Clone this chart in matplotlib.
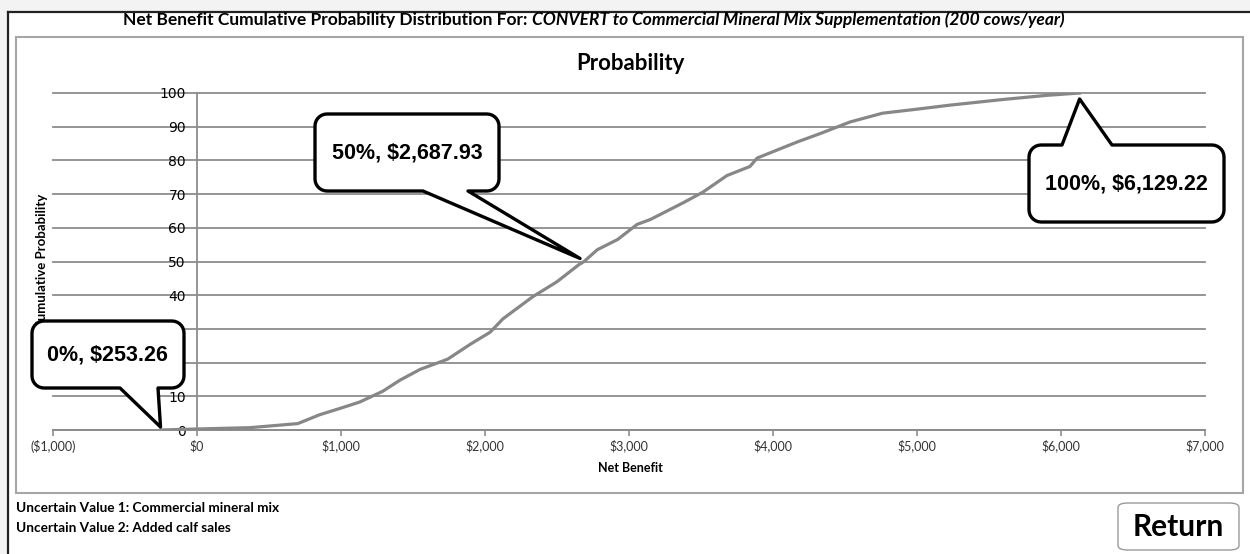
import numpy as np
import matplotlib
matplotlib.use('Agg')
import matplotlib.pyplot as plt
from matplotlib.patches import Polygon, Rectangle, FancyBboxPatch

# cumulative distribution
net_benefit = [-253.26, 0, 370, 700, 850, 1000, 1130, 1290, 1410, 1550, 1740, 1900,
               2035, 2125, 2330, 2500, 2650, 2687.93, 2780, 2920, 3056, 3150, 3375,
               3514, 3680, 3840, 3890, 4170, 4330, 4535, 4760, 5000, 5230, 5580,
               5900, 6129.22]
cum_prob = [0, 0.3, 0.7, 1.9, 4.5, 6.5, 8.3, 11.5, 14.8, 18, 21, 25.5,
            29, 33, 39.5, 44, 49, 50, 53.5, 56.5, 61, 62.5, 67.4,
            70.6, 75.5, 78.2, 80.7, 85.5, 88, 91.4, 94, 95.2, 96.4, 98,
            99.3, 100]

x_ticks = [-1000, 0, 1000, 2000, 3000, 4000, 5000, 6000, 7000]
x_tick_labels = ['($1,000)', '$0', '$1,000', '$2,000', '$3,000', '$4,000',
                 '$5,000', '$6,000', '$7,000']
y_ticks = [0, 10, 20, 30, 40, 50, 60, 70, 80, 90, 100]

# callouts: label, data point
callout_labels = ['0%, $253.26', '50%, $2,687.93', '100%, $6,129.22']
callout_points = [(-253.26, 0), (2687.93, 50), (6129.22, 100)]

W, H = 1250, 554
calibri = ['Lato', 'DejaVu Sans']
arial = ['Liberation Sans', 'DejaVu Sans']


def px(x, y):
    # pixel (top-left origin) -> figure fraction
    return (x / W, 1 - y / H)


fig = plt.figure(figsize=(W / 100, H / 100), dpi=100)
fig.patch.set_facecolor('#f3f3f3')

# window and chart frame
fig.patches.append(Rectangle(px(8, 554), (W - 8) / W, (554 - 12) / H, transform=fig.transFigure,
                             facecolor='white', edgecolor='none', zorder=0))
fig.add_artist(plt.Line2D([8 / W, 1], [1 - 12 / H] * 2, color='#222222', lw=1.6, zorder=0.5))
fig.add_artist(plt.Line2D([8 / W] * 2, [0, 1 - 12 / H], color='#222222', lw=1.6, zorder=0.5))
fig.patches.append(Rectangle(px(16, 493), (1243 - 16) / W, (493 - 37) / H, transform=fig.transFigure,
                             facecolor='white', edgecolor='#a6a6a6', lw=1.5, zorder=0.6))

ax = fig.add_axes([53 / W, 1 - 430 / H, (1205 - 53) / W, (430 - 93) / H])
ax.set_zorder(1)
ax.patch.set_alpha(0)
ax.plot(net_benefit, cum_prob, color='#878787', lw=2.3, solid_joinstyle='round', zorder=3)
ax.set_xlim(-1000, 7000)
ax.set_ylim(0, 100)
ax.set_xticks(x_ticks)
ax.set_xticklabels(x_tick_labels, fontfamily=calibri, fontsize=9, color='#333333')
ax.set_yticks(y_ticks)
ax.set_yticklabels([str(v) for v in y_ticks], fontfamily=calibri, fontsize=9, color='#333333')
ax.yaxis.grid(True, color='#8c8c8c', lw=1.3, clip_on=False)
ax.set_axisbelow(True)
for s in ['top', 'right']:
    ax.spines[s].set_visible(False)
ax.spines['left'].set_position(('data', 0))
ax.spines['left'].set_color('#8c8c8c')
ax.spines['left'].set_linewidth(1.3)
ax.spines['bottom'].set_color('#8c8c8c')
ax.spines['bottom'].set_linewidth(1.3)
ax.tick_params(axis='x', direction='out', length=4, width=1.2, color='#8c8c8c', pad=3)
ax.tick_params(axis='y', length=0, pad=8)

# titles
t1 = fig.text(*px(594, 20), 'Net Benefit Cumulative Probability Distribution For: ',
              ha='left', va='center', fontfamily=calibri, fontweight='bold', fontsize=12.5, zorder=5)
t2 = fig.text(*px(594, 20), 'CONVERT to Commercial Mineral Mix Supplementation (200 cows/year)',
              ha='left', va='center', fontfamily=calibri, fontweight='bold', fontstyle='italic',
              fontsize=12.5, zorder=5)
fig.text(*px(630, 64), 'Probability', ha='center', va='center', fontfamily=calibri,
         fontweight='bold', fontsize=16, zorder=5)
fig.text(*px(630, 468), 'Net Benefit', ha='center', va='center', fontfamily=calibri,
         fontweight='bold', fontsize=9, zorder=5)
# the bubble below hides the start of this label, as in the source
ylab = fig.text(*px(42, 260), 'Cumulative Probability', ha='center', va='center', rotation=90,
                fontfamily=calibri, fontweight='bold', fontsize=9.5, zorder=3)

fig.text(*px(16, 508), 'Uncertain Value 1: Commercial mineral mix', ha='left', va='center',
         fontfamily=calibri, fontweight='bold', fontsize=9.8)
fig.text(*px(16, 528), 'Uncertain Value 2: Added calf sales', ha='left', va='center',
         fontfamily=calibri, fontweight='bold', fontsize=9.8)

# return button
btn = FancyBboxPatch(px(1118, 550), (1239 - 1118) / W, (550 - 503) / H,
                     boxstyle='round,pad=0,rounding_size=0.008', transform=fig.transFigure,
                     facecolor='white', edgecolor='#9a9a9a', lw=1.0, zorder=2)
fig.patches.append(btn)
fig.text(*px(1178, 527), 'Return', ha='center', va='center', fontfamily=calibri,
         fontweight='bold', fontsize=21.5, zorder=5)


def bubble(x0, y0, x1, y1, side, b1, b2, tip, r=12):
    # outline of a rounded box with a pointer, in pixel coords (y down)
    def arc(cx, cy, a0, a1):
        a = np.radians(np.linspace(a0, a1, 8))
        return list(zip(cx + r * np.cos(a), cy + r * np.sin(a)))
    pts = arc(x0 + r, y0 + r, 180, 270)
    if side == 'top':
        pts += [(b1, y0), tip, (b2, y0)]
    pts += arc(x1 - r, y0 + r, 270, 360)
    pts += arc(x1 - r, y1 - r, 0, 90)
    if side == 'bottom':
        pts += [(b2, y1), tip, (b1, y1)]
    pts += arc(x0 + r, y1 - r, 90, 180)
    return [px(x, y) for x, y in pts]


fig.canvas.draw()
renderer = fig.canvas.get_renderer()

# centre the two-part title on x=594
w1 = t1.get_window_extent(renderer).width
w2 = t2.get_window_extent(renderer).width
start = 594 - (w1 + w2) / 2
t1.set_position(px(start, 20))
t2.set_position(px(start + w1, 20))

# y label: top end near y=194, so only its first letter falls under the bubble
hl = ylab.get_window_extent(renderer).height
ylab.set_position(px(42, 194 + hl / 2))


def data_to_px(pt, dx=0, dy=0):
    X, Y = ax.transData.transform(pt)
    return (X + dx, H - Y + dy)


boxes = [(32, 321, 184, 388, 'bottom', 120, 158, (0, -3), (107, 355)),
         (315, 114, 499, 191, 'bottom', 423, 468, (-4, -3), (407, 153)),
         (1029, 145, 1224, 222, 'top', 1062, 1112, (0, 6), (1126, 184))]
for (x0, y0, x1, y1, side, b1, b2, off, tc), lab, pt in zip(boxes, callout_labels, callout_points):
    tip = data_to_px(pt, *off)
    fig.patches.append(Polygon(bubble(x0, y0, x1, y1, side, b1, b2, tip), closed=True,
                               transform=fig.transFigure, facecolor='white', edgecolor='black',
                               lw=2.4, joinstyle='round', zorder=4))
    fig.text(*px(*tc), lab, ha='center', va='center', fontfamily=arial, fontweight='bold',
             fontsize=15.5, zorder=5)

fig.savefig('out.png', dpi=100, facecolor=fig.get_facecolor())
